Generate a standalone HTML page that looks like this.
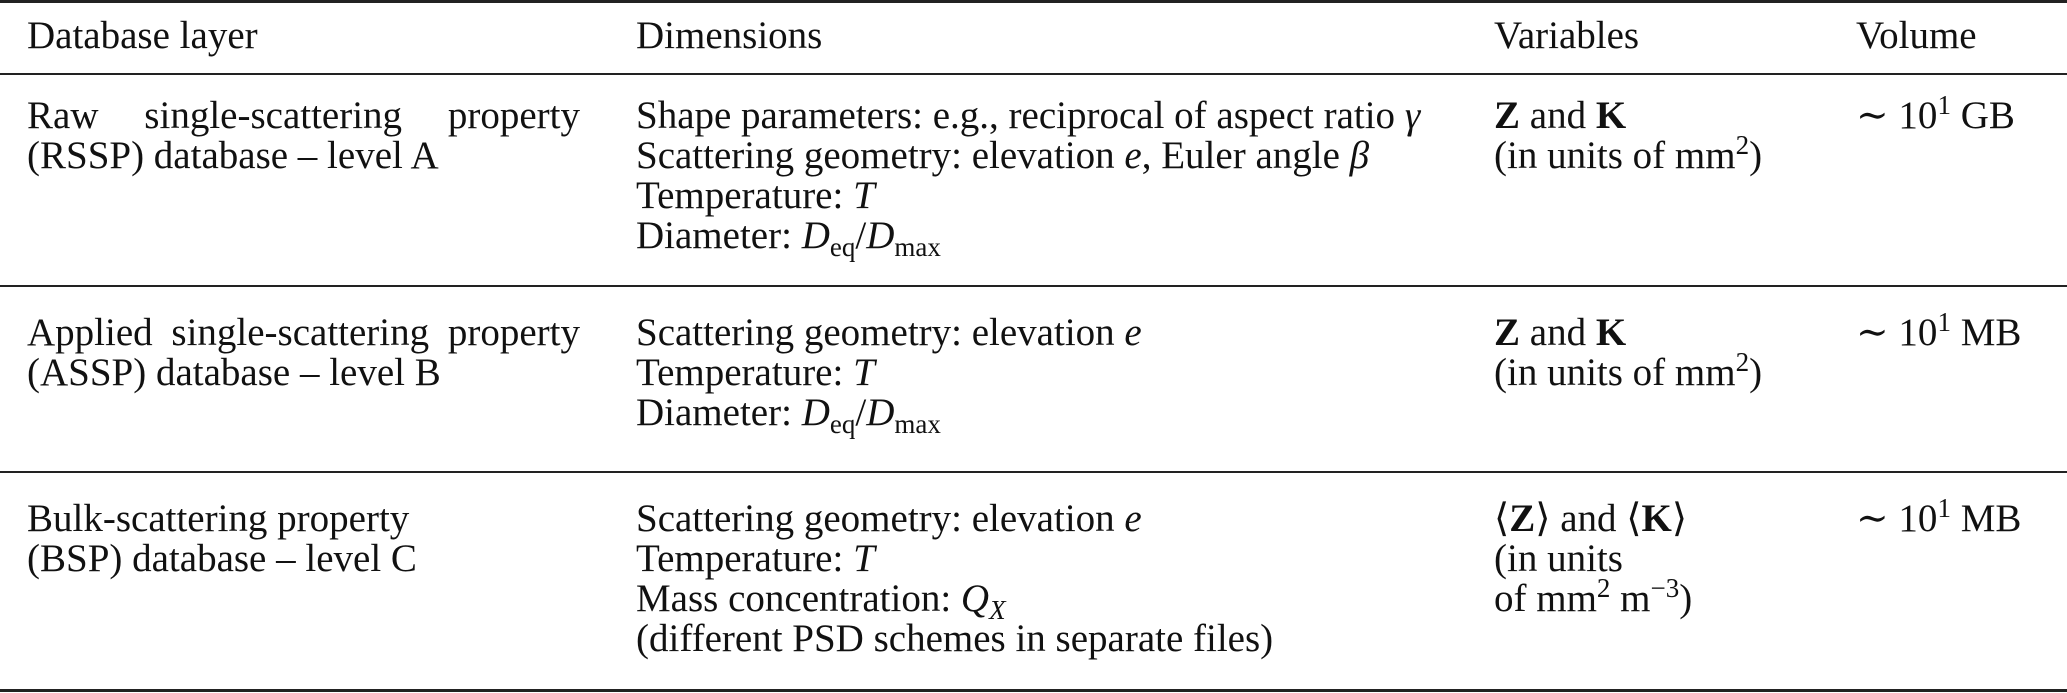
<!DOCTYPE html>
<html><head><meta charset="utf-8"><style>
html,body{margin:0;padding:0;background:#fff;}
body{width:2067px;height:693px;position:relative;overflow:hidden;font-family:"Liberation Serif","DejaVu Serif",serif;font-size:39px;color:#111;}
.l{position:absolute;white-space:nowrap;height:48px;line-height:48px;}
.j{text-align:justify;text-align-last:justify;white-space:normal;}
.r{position:absolute;left:0;width:2067px;background:#222;}
sub{font-size:27px;vertical-align:-8px;line-height:0;}
sup{font-size:27px;vertical-align:14px;line-height:0;}
i{font-style:italic;}
</style></head><body>
<div class="r" style="top:0;height:3px"></div>
<div class="r" style="top:73px;height:2px"></div>
<div class="r" style="top:285px;height:2px"></div>
<div class="r" style="top:471px;height:2px"></div>
<div class="r" style="top:689px;height:3px"></div>

<div class="l" style="left:27px;top:12px">Database layer</div>
<div class="l" style="left:636px;top:12px">Dimensions</div>
<div class="l" style="left:1494px;top:12px">Variables</div>
<div class="l" style="left:1856px;top:12px">Volume</div>

<div class="l j" style="left:27px;top:92px;width:553px">Raw single-scattering property</div>
<div class="l" style="left:27px;top:132px">(RSSP) database – level A</div>
<div class="l" style="left:636px;top:92px">Shape parameters: e.g., reciprocal of aspect ratio <i>γ</i></div>
<div class="l" style="left:636px;top:132px">Scattering geometry: elevation <i>e</i>, Euler angle <i>β</i></div>
<div class="l" style="left:636px;top:172px">Temperature: <i>T</i></div>
<div class="l" style="left:636px;top:212px">Diameter: <i>D</i><sub>eq</sub>/<i>D</i><sub>max</sub></div>
<div class="l" style="left:1494px;top:92px"><b>Z</b> and <b>K</b></div>
<div class="l" style="left:1494px;top:132px">(in units of mm<sup>2</sup>)</div>
<div class="l" style="left:1856px;top:92px">∼ 10<sup>1</sup> GB</div>

<div class="l j" style="left:27px;top:309px;width:553px">Applied single-scattering property</div>
<div class="l" style="left:27px;top:349px">(ASSP) database – level B</div>
<div class="l" style="left:636px;top:309px">Scattering geometry: elevation <i>e</i></div>
<div class="l" style="left:636px;top:349px">Temperature: <i>T</i></div>
<div class="l" style="left:636px;top:389px">Diameter: <i>D</i><sub>eq</sub>/<i>D</i><sub>max</sub></div>
<div class="l" style="left:1494px;top:309px"><b>Z</b> and <b>K</b></div>
<div class="l" style="left:1494px;top:349px">(in units of mm<sup>2</sup>)</div>
<div class="l" style="left:1856px;top:309px">∼ 10<sup>1</sup> MB</div>

<div class="l" style="left:27px;top:495px">Bulk-scattering property</div>
<div class="l" style="left:27px;top:535px">(BSP) database – level C</div>
<div class="l" style="left:636px;top:495px">Scattering geometry: elevation <i>e</i></div>
<div class="l" style="left:636px;top:535px">Temperature: <i>T</i></div>
<div class="l" style="left:636px;top:575px">Mass concentration: <i>Q</i><sub><i>X</i></sub></div>
<div class="l" style="left:636px;top:615px">(different PSD schemes in separate files)</div>
<div class="l" style="left:1494px;top:495px">⟨<b>Z</b>⟩ and ⟨<b>K</b>⟩</div>
<div class="l" style="left:1494px;top:535px">(in units</div>
<div class="l" style="left:1494px;top:575px">of mm<sup>2</sup> m<sup>−3</sup>)</div>
<div class="l" style="left:1856px;top:495px">∼ 10<sup>1</sup> MB</div>
</body></html>
